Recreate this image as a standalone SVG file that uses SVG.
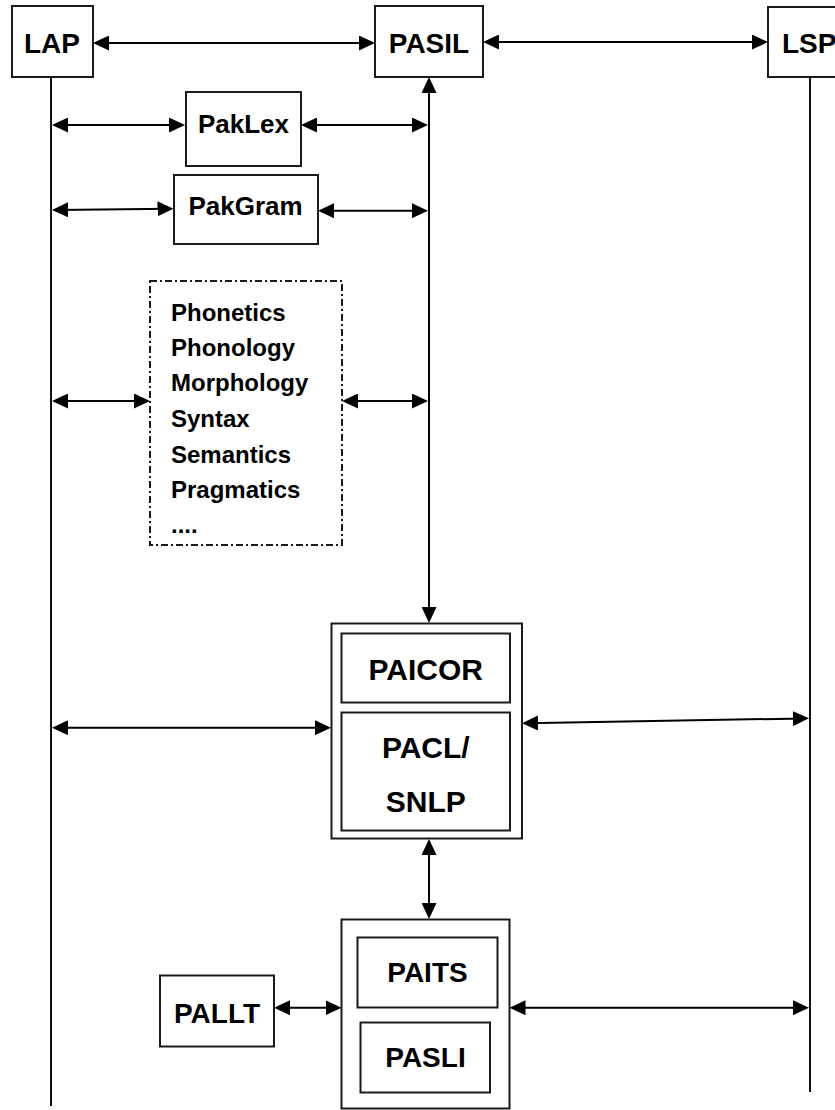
<svg xmlns="http://www.w3.org/2000/svg" width="835" height="1110" viewBox="0 0 835 1110">
<style>
.box{fill:#fff;stroke:#1a1a1a;stroke-width:2}
.dash{fill:none;stroke:#1a1a1a;stroke-width:2;stroke-dasharray:7 3 2 3}
.life{stroke:#111;stroke-width:2;fill:none}
.conn{stroke:#000;stroke-width:2;fill:none;marker-start:url(#ah);marker-end:url(#ah)}
text{font-family:"Liberation Sans",Arial,sans-serif;font-weight:bold;fill:#000}
.big{font-size:28px;text-anchor:middle}
.mid{font-size:26px;text-anchor:middle}
.xl{font-size:30px;text-anchor:middle}
.lst{font-size:24px}
</style>
<defs>
<marker id="ah" markerUnits="userSpaceOnUse" markerWidth="16" markerHeight="15" refX="12" refY="7.5" orient="auto-start-reverse">
<path d="M0,0 L16,7.5 L0,15 z" fill="#000"/>
</marker>
</defs>
<g id="lifelines">
<line class="life" x1="51" y1="77" x2="51" y2="1106"/>
<line class="life" x1="810" y1="77" x2="810" y2="1092"/>
</g>
<g id="connectors">
<path class="conn" d="M97,43 H371"/>
<path class="conn" d="M487,42 H764"/>
<path class="conn" d="M56,125 H181"/>
<path class="conn" d="M305,125 H424"/>
<path class="conn" d="M56,210 L169.5,208.7"/>
<path class="conn" d="M322,210.7 H424"/>
<path class="conn" d="M56,401 H146"/>
<path class="conn" d="M346,401 H424"/>
<path class="conn" d="M429,81 V619"/>
<path class="conn" d="M56,727.7 H327"/>
<path class="conn" d="M526,723.2 L805,718.4"/>
<path class="conn" d="M429,843 V915"/>
<path class="conn" d="M278,1007.7 H337.5"/>
<path class="conn" d="M513.5,1007.7 H805"/>
</g>
<g id="LAP">
<rect class="box" x="12" y="6" width="81" height="71"/>
<text class="big" x="52" y="53">LAP</text>
</g>
<g id="PASIL">
<rect class="box" x="375" y="6" width="108" height="71"/>
<text class="big" x="429" y="53">PASIL</text>
</g>
<g id="LSP">
<rect class="box" x="768" y="7" width="80" height="70"/>
<text class="big" x="782" y="53" style="text-anchor:start">LSP</text>
</g>
<g id="PakLex">
<rect class="box" x="186" y="92" width="115" height="74"/>
<text class="mid" x="243.5" y="133">PakLex</text>
</g>
<g id="PakGram">
<rect class="box" x="174" y="175" width="144" height="69"/>
<text class="mid" x="245.5" y="215">PakGram</text>
</g>
<g id="Levels">
<rect class="dash" x="150" y="281" width="192" height="264"/>
<text class="lst" x="171" y="320.5">Phonetics</text>
<text class="lst" x="171" y="356">Phonology</text>
<text class="lst" x="171" y="391">Morphology</text>
<text class="lst" x="171" y="426.5">Syntax</text>
<text class="lst" x="171" y="462.5">Semantics</text>
<text class="lst" x="171" y="497.5">Pragmatics</text>
<text class="lst" x="171" y="533">....</text>
</g>
<g id="PAICOR-PACL">
<rect class="box" x="331.5" y="623.5" width="190.5" height="215"/>
<g id="PAICOR">
<rect class="box" x="341.5" y="633.5" width="168.5" height="69"/>
<text class="xl" x="425.8" y="680">PAICOR</text>
</g>
<g id="PACL">
<rect class="box" x="341.5" y="712.5" width="168.5" height="118"/>
<text class="xl" x="425.8" y="758.3">PACL/</text>
<text class="xl" x="425.8" y="811.7">SNLP</text>
</g>
</g>
<g id="PAITS-PASLI">
<rect class="box" x="341.5" y="919.5" width="168" height="189"/>
<g id="PAITS">
<rect class="box" x="357.5" y="937.5" width="140" height="70"/>
<text class="big" x="427.5" y="981.7">PAITS</text>
</g>
<g id="PASLI">
<rect class="box" x="360.5" y="1022.5" width="129.5" height="70"/>
<text class="big" x="425.5" y="1066.7">PASLI</text>
</g>
</g>
<g id="PALLT">
<rect class="box" x="160" y="975.5" width="114" height="71"/>
<text class="big" x="217" y="1023.3">PALLT</text>
</g>
</svg>
